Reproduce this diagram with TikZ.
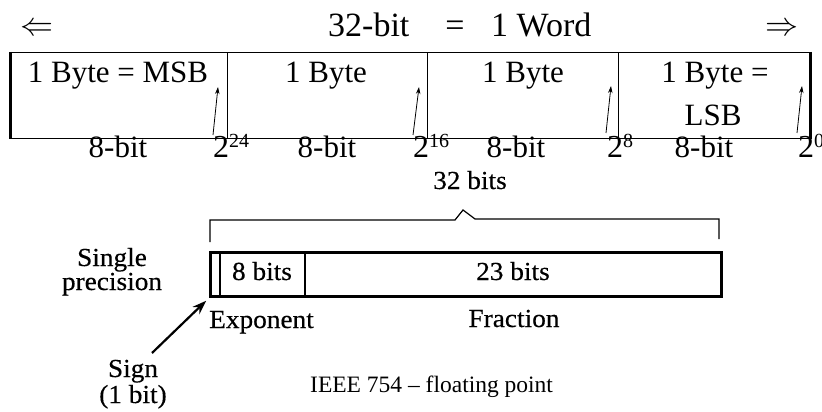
\documentclass[tikz,border=0pt]{standalone}
\usepackage{fix-cm}
\usepackage{fontspec}
\setmainfont{Liberation Serif}
\newfontfamily\bookfont[FakeStretch=1.05,FakeBold=0.4]{Liberation Serif}
\usetikzlibrary{arrows.meta}
\newcommand\mypow[1]{2\raisebox{10pt}{\fontsize{20}{20}\selectfont #1}}
\begin{document}
\begin{tikzpicture}[x=1pt,y=-1pt,
  big/.style={inner sep=0pt, font=\fontsize{34}{38}\selectfont},
  txt/.style={inner sep=0pt, anchor=base, font=\fontsize{31}{36}\selectfont},
  pw/.style={inner sep=0pt, anchor=base west, font=\fontsize{32}{36}\selectfont},
  bk/.style={inner sep=0pt, anchor=base, font={\bookfont\fontsize{26}{30}\selectfont}},
  bytebox/.style={draw, line width=1.4pt, inner sep=0pt, minimum height=86pt, anchor=north west},
  ptr/.style={line width=0.8pt, -{Stealth[length=7pt,width=4.5pt]}},
]
\useasboundingbox (0,0) rectangle (822,412);
\clip (0,0) rectangle (822,412);

% title row
\node[big, anchor=center, font=\fontsize{33}{36}\selectfont] (larr) at (37,29) {$\Leftarrow$};
\node[big, anchor=base west] (t1) at (328,37) {32-bit};
\node[big, anchor=base] (t2) at (455,37) {=};
\node[big, anchor=base west] (t3) at (491,37) {1 Word};
\node[big, anchor=center, font=\fontsize{33}{36}\selectfont] (rarr) at (782,29) {$\Rightarrow$};

% byte boxes
\node[bytebox, minimum width=217pt] (b1) at (10,52) {};
\node[bytebox, minimum width=200pt] (b2) at (227,52) {};
\node[bytebox, minimum width=191pt] (b3) at (427,52) {};
\node[bytebox, minimum width=191pt] (b4) at (618,52) {};
\draw[line width=3pt] (b1.north west) -- (b1.south west);
\draw[line width=3pt] (b4.north east) -- (b4.south east);

\node[txt] (l1) at (118,83) {1 Byte = MSB};
\node[txt] (l2) at (326,83) {1 Byte};
\node[txt] (l3) at (523,83) {1 Byte};
\node[txt] (l4a) at (715,83) {1 Byte =};
\node[txt] (l4b) at (713,125) {LSB};

% powers
\node[pw] (p24) at (213,157) {\mypow{24}};
\node[pw] (p16) at (413,157) {\mypow{16}};
\node[pw] (p8) at (607,157) {\mypow{8}};
\node[pw] (p0) at (798,157) {\mypow{0}};

\coordinate (a1s) at (213,135); \coordinate (a1e) at (218,87);
\coordinate (a2s) at (413,135); \coordinate (a2e) at (419,87);
\coordinate (a3s) at (606,133); \coordinate (a3e) at (611,86);
\coordinate (a4s) at (797,133); \coordinate (a4e) at (802,86);
\draw[ptr] (a1s) -- (a1e);
\draw[ptr] (a2s) -- (a2e);
\draw[ptr] (a3s) -- (a3e);
\draw[ptr] (a4s) -- (a4e);

% 8-bit labels
\node[txt] (e1) at (118,157) {8-bit};
\node[txt] (e2) at (327,157) {8-bit};
\node[txt] (e3) at (516,157) {8-bit};
\node[txt] (e4) at (704,157) {8-bit};

% IEEE single precision
\node[bk] (n32) at (470,189) {32 bits};
\draw[line width=1.2pt] (210,242) -- (210,220) -- (455,220) -- (463,210) -- (475,219) -- (719,219) -- (719,239);

\node[draw, line width=3pt, inner sep=0pt, minimum width=511pt, minimum height=44pt, anchor=north west] (sp) at (209,251) {};
\draw[line width=2pt] (220,251) -- (220,295);
\draw[line width=2pt] (305,251) -- (305,295);

\node[bk] (eb) at (262,280) {8 bits};
\node[bk] (fb) at (513,280) {23 bits};
\node[bk, align=center, font={\bookfont\fontsize{26}{24}\selectfont}] (sgl) at (112,290) {Single\\precision};
\node[bk, anchor=base west] (expo) at (209,328) {Exponent};
\node[bk] (frac) at (514,327) {Fraction};
\node[bk, align=center, font={\bookfont\fontsize{26}{26}\selectfont}] (sign) at (133,403) {Sign\\(1 bit)};
\coordinate (sgnfrom) at (152,353);
\draw[line width=2.2pt, -{Stealth[length=14pt,width=10pt]}, shorten >=4pt] (sgnfrom) -- (sp.south west);

\node[inner sep=0pt, anchor=base west, font=\fontsize{23.5}{28}\selectfont] (cap) at (310,392) {IEEE 754 -- floating point};
\end{tikzpicture}
\end{document}
